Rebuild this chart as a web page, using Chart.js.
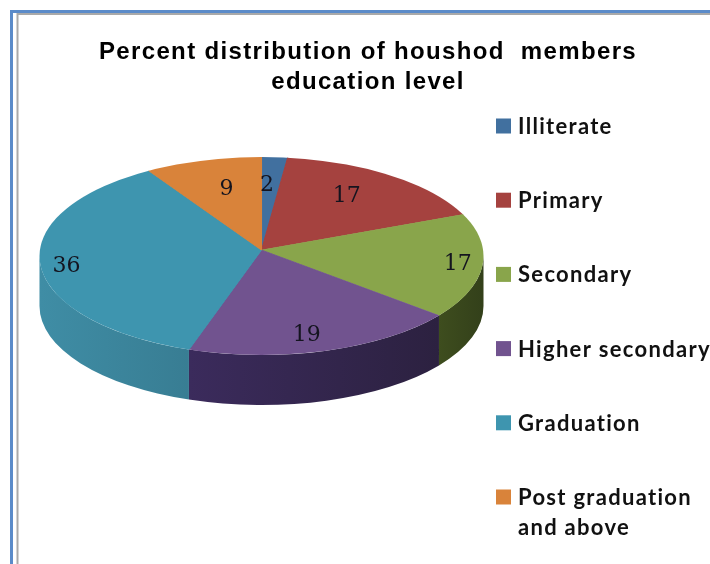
<!DOCTYPE html>
<html>
<head>
<meta charset="utf-8">
<style>
  html, body { margin: 0; padding: 0; background: #fff; overflow: hidden; }
  #wrap { position: relative; width: 710px; height: 564px; }
  canvas { display: block; }
</style>
<script src="https://cdn.jsdelivr.net/npm/chart.js@4"></script>
</head>
<body>
<div id="wrap"><canvas id="pie" width="710" height="564"></canvas></div>
<script>
// Survey shares, clockwise from twelve o'clock
const categories = ['Illiterate', 'Primary', 'Secondary', 'Higher secondary', 'Graduation', ['Post graduation', 'and above']];
const shares = [2, 17, 17, 19, 36, 9];
const topColors = ['#41709f', '#a5423f', '#89a54b', '#71538f', '#3e95af', '#d9833a'];
const wallColors = [
  ['#2c4c6e', '#223c58'],
  ['#6e2c2a', '#5a2422'],
  ['#3e4d1e', '#33401a'],
  ['#3b2b5c', '#2c2140'],
  ['#3f8da5', '#387d93'],
  ['#9a5a26', '#7c481e']
];
// How far along the radius each value label sits, and its fine pixel adjustment
const labelReach = [0.68, 0.67, 0.9, 0.86, 0.89, 0.63];
const labelNudge = [[-4, 2], [-6, -1], [-1, 0], [-8, 4], [1, 5], [4, -1]];

// Flattened disc with a slight perspective: the spokes meet a little behind the ellipse centre
const disc = { x: 261.5, y: 256, rx: 222, ry: 99, depth: 50, hubLift: 6, overscan: 1.15 };
const legendBox = { x: 496, top: 127, step: 74.2, swatch: 15, textX: 518, lineHeight: 30 };

// Angle on the rim ellipse reached by a spoke leaving the hub at the given angle
function rimAngle(a) {
  const oy = -disc.hubLift / disc.ry;
  const b = oy * Math.sin(a);
  const t = -b + Math.sqrt(b * b - (oy * oy - 1));
  const angle = Math.atan2(oy + t * Math.sin(a), t * Math.cos(a));
  // keep the result on the same turn as the input
  return angle + Math.round((a - angle) / (2 * Math.PI)) * 2 * Math.PI;
}

// Squash the library's circular arcs into an ellipse and paint the rim beneath them
const discPlugin = {
  id: 'disc',
  beforeDraw(chart) {
    chart.ctx.letterSpacing = '1.35px';
  },
  beforeDatasetsDraw(chart) {
    const ctx = chart.ctx;
    ctx.letterSpacing = '0px';
    const arcs = chart.getDatasetMeta(0).data;
    arcs.forEach((arc, i) => {
      const from = Math.max(rimAngle(arc.startAngle), 0);
      const to = Math.min(rimAngle(arc.endAngle), Math.PI);
      if (to <= from) return;
      const x0 = disc.x + disc.rx * Math.cos(to);
      const x1 = disc.x + disc.rx * Math.cos(from);
      const grad = ctx.createLinearGradient(x0, 0, x1, 0);
      grad.addColorStop(0, wallColors[i][0]);
      grad.addColorStop(1, wallColors[i][1]);
      ctx.save();
      ctx.beginPath();
      ctx.ellipse(disc.x, disc.y, disc.rx, disc.ry, 0, from, to);
      ctx.ellipse(disc.x, disc.y + disc.depth, disc.rx, disc.ry, 0, to, from, true);
      ctx.closePath();
      ctx.fillStyle = grad;
      ctx.fill();
      ctx.restore();
    });
    const first = arcs[0];
    const k = disc.overscan * disc.rx / first.outerRadius;
    const q = disc.overscan * disc.ry / first.outerRadius;
    ctx.save();
    ctx.beginPath();
    ctx.ellipse(disc.x, disc.y, disc.rx, disc.ry, 0, 0, 2 * Math.PI);
    ctx.clip();
    ctx.translate(disc.x, disc.y - disc.hubLift);
    ctx.scale(k, q);
    ctx.translate(-first.x, -first.y);
  },
  afterDatasetsDraw(chart) {
    const ctx = chart.ctx;
    ctx.restore();
    // Value labels on the top face
    ctx.save();
    ctx.font = '22px "DejaVu Serif"';
    ctx.fillStyle = '#14141f';
    ctx.textAlign = 'center';
    ctx.textBaseline = 'middle';
    chart.getDatasetMeta(0).data.forEach((arc, i) => {
      const mid = (arc.startAngle + arc.endAngle) / 2;
      const lx = disc.x + disc.rx * labelReach[i] * Math.cos(mid) + labelNudge[i][0];
      const ly = disc.y - disc.hubLift + disc.ry * labelReach[i] * Math.sin(mid) + labelNudge[i][1];
      ctx.fillText(String(shares[i]), lx, ly);
    });
    ctx.restore();
  },
  afterDraw(chart) {
    const ctx = chart.ctx;
    ctx.save();
    // Double frame that runs off the right and bottom edges
    ctx.strokeStyle = '#5b8bc9';
    ctx.lineWidth = 3;
    ctx.beginPath();
    ctx.moveTo(711, 11.5);
    ctx.lineTo(11.5, 11.5);
    ctx.lineTo(11.5, 565);
    ctx.stroke();
    ctx.strokeStyle = '#a9a9a9';
    ctx.lineWidth = 2;
    ctx.beginPath();
    ctx.moveTo(711, 14);
    ctx.lineTo(17.5, 14);
    ctx.lineTo(17.5, 565);
    ctx.stroke();
    // Legend column
    ctx.font = 'bold 22px Lato';
    ctx.letterSpacing = '1.3px';
    ctx.textAlign = 'left';
    ctx.textBaseline = 'middle';
    categories.forEach((name, i) => {
      const cy = legendBox.top + legendBox.step * i;
      ctx.fillStyle = topColors[i];
      ctx.fillRect(legendBox.x, cy - legendBox.swatch / 2 - 1, legendBox.swatch, legendBox.swatch);
      ctx.fillStyle = '#111';
      [].concat(name).forEach((line, n) => {
        ctx.fillText(line, legendBox.textX, cy + n * legendBox.lineHeight);
      });
    });
    ctx.restore();
    ctx.letterSpacing = '0px';
  }
};

new Chart(document.getElementById('pie'), {
  type: 'pie',
  data: {
    labels: categories,
    datasets: [{ data: shares, backgroundColor: topColors, borderColor: topColors, borderWidth: 1 }]
  },
  options: {
    responsive: false,
    animation: false,
    layout: { padding: { left: 26, top: 37 } },
    plugins: {
      legend: { display: false },
      tooltip: { enabled: false },
      title: {
        display: true,
        text: ['Percent distribution of houshod  members', 'education level'],
        color: '#000',
        font: { family: '"Liberation Sans"', size: 24, weight: 'bold', lineHeight: 1.25 },
        padding: 0
      }
    }
  },
  plugins: [discPlugin]
});
</script>
</body>
</html>
